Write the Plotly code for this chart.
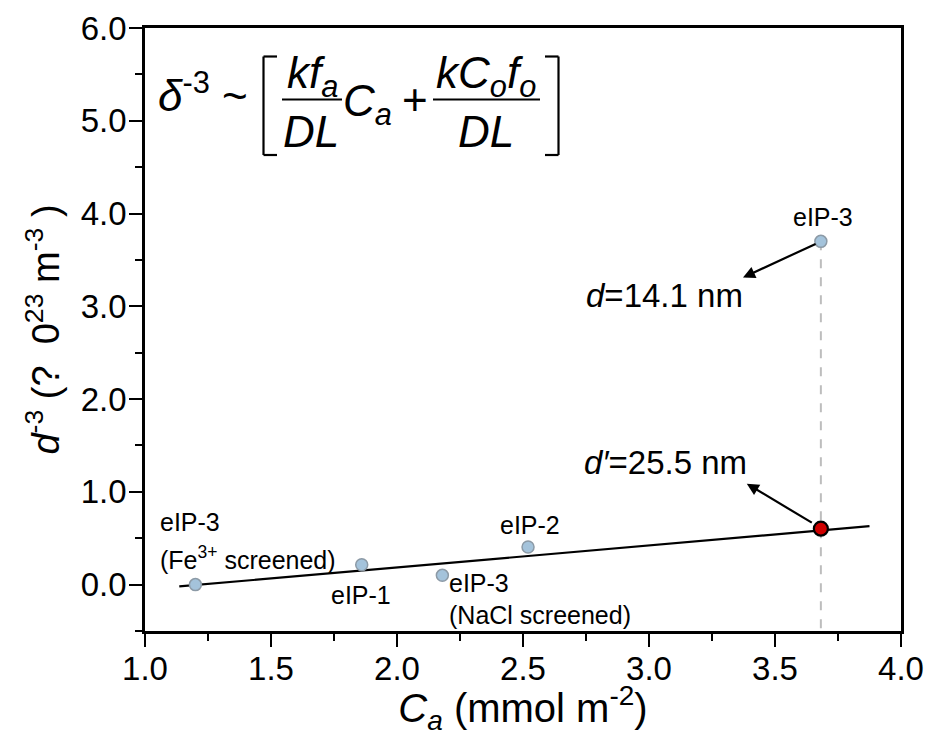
import plotly.graph_objects as go

# ---------------- data ----------------
sample_names = ["eIP-3", "eIP-1", "eIP-3", "eIP-2", "eIP-3"]
ca_values = [1.20, 1.86, 2.18, 2.52, 3.682]
d3_values = [0.00, 0.215, 0.10, 0.405, 3.70]

corrected_x = [3.682]
corrected_y = [0.603]

fit_x = [1.136, 3.875]
fit_y = [-0.02, 0.63]

x_ticks = [1.0, 1.5, 2.0, 2.5, 3.0, 3.5, 4.0]
y_ticks = [0.0, 1.0, 2.0, 3.0, 4.0, 5.0, 6.0]

FONT = "Liberation Sans, Arial, sans-serif"

# plot area in pixels (for layout placement of text)
L, R, T, B = 145, 901, 28, 631
W, H = 928, 736


def P(px, py):
    return (px - L) / (R - L), (B - py) / (B - T)


fig = go.Figure()

# dashed guide
fig.add_trace(go.Scatter(x=[ca_values[-1], ca_values[-1]], y=[d3_values[-1], -0.5],
                         mode="lines", line=dict(color="#bdbdbd", width=2, dash="dash"),
                         hoverinfo="skip", showlegend=False))
# fit line
fig.add_trace(go.Scatter(x=fit_x, y=fit_y, mode="lines",
                         line=dict(color="black", width=2.2), showlegend=False))
# samples
fig.add_trace(go.Scatter(x=ca_values, y=d3_values, mode="markers",
                         marker=dict(size=12, color="#a4c3db",
                                     line=dict(color="#8c9aa6", width=1.5)),
                         showlegend=False))
# corrected point
fig.add_trace(go.Scatter(x=corrected_x, y=corrected_y, mode="markers",
                         marker=dict(size=14, color="#d00000",
                                     line=dict(color="black", width=2.2)),
                         showlegend=False))

ann = []


def text(px, py, s, size=25, xanchor="left", yanchor="middle"):
    x, y = P(px, py)
    ann.append(dict(x=x, y=y, xref="paper", yref="paper", text=s, showarrow=False,
                    xanchor=xanchor, yanchor=yanchor,
                    font=dict(family=FONT, size=size, color="black")))


# point labels
text(823, 217, sample_names[4], xanchor="center")
text(158, 522, sample_names[0])
text(158, 558, "(Fe<sup>3+</sup> screened)")
text(329, 595, sample_names[1])
text(498, 525, sample_names[3])
text(447, 583, sample_names[2])
text(447, 615, "(NaCl screened)")

# d labels
text(584, 295, "<i>d</i>=14.1 nm", size=33)
text(582, 463, "<i>d′</i>=25.5 nm", size=33)

# arrows
ann.append(dict(x=3.373, y=3.31, ax=ca_values[-1] - 0.015, ay=d3_values[-1] - 0.02,
                xref="x", yref="y", axref="x", ayref="y", text="", showarrow=True,
                arrowhead=2, arrowsize=1.1, arrowwidth=2.2, arrowcolor="black"))
ann.append(dict(x=3.388, y=1.088, ax=corrected_x[0] - 0.03, ay=corrected_y[0] + 0.055,
                xref="x", yref="y", axref="x", ayref="y", text="", showarrow=True,
                arrowhead=2, arrowsize=1.1, arrowwidth=2.2, arrowcolor="black"))

# equation
EQ = 44
text(156, 93, "<i>δ</i><sup>-3</sup> ~", size=EQ)
text(312, 76, "<i>kf<sub>a</sub></i>", size=EQ, xanchor="center")
text(311, 131, "<i>DL</i>", size=EQ, xanchor="center")
text(341, 104, "<i>C<sub>a</sub></i>", size=EQ)
text(415, 99, "+", size=EQ, xanchor="center")
text(486, 76, "<i>kC<sub>o</sub>f<sub>o</sub></i>", size=EQ, xanchor="center")
text(486, 131, "<i>DL</i>", size=EQ, xanchor="center")

shapes = []


def seg(x0, y0, x1, y1, w=2.2):
    a, b = P(x0, y0)
    c, d = P(x1, y1)
    shapes.append(dict(type="line", xref="paper", yref="paper", x0=a, y0=b, x1=c, y1=d,
                       line=dict(color="black", width=w)))


# fraction bars
seg(282, 99.5, 342, 99.5)
seg(433, 99.5, 540, 99.5)
# left bracket
seg(263.5, 56.5, 263.5, 155)
seg(263.5, 56.5, 277, 56.5)
seg(263.5, 155, 277, 155)
# right bracket
seg(558.5, 56.5, 558.5, 155)
seg(545, 56.5, 558.5, 56.5)
seg(545, 155, 558.5, 155)

axis_common = dict(showline=True, linecolor="black", linewidth=2.5, mirror=True,
                   ticks="outside", ticklen=13, tickwidth=2, tickcolor="black",
                   showgrid=False, zeroline=False, automargin=False,
                   tickfont=dict(family=FONT, size=33, color="black"))

fig.update_layout(
    width=W, height=H,
    margin=dict(l=L, r=W - R, t=T, b=H - B, autoexpand=False),
    plot_bgcolor="white", paper_bgcolor="white",
    xaxis=dict(range=[1.0, 4.0], tickvals=x_ticks,
               ticktext=[f"{v:.1f}" for v in x_ticks],
               minor=dict(dtick=0.25, ticklen=7, tickwidth=2, tickcolor="black", ticks="outside"),
               title=dict(text="<i>C<sub>a</sub></i> (mmol m<sup>-2</sup>)",
                          font=dict(family=FONT, size=40, color="black"), standoff=0),
               ticklabelstandoff=-6,
               **axis_common),
    yaxis=dict(range=[-0.5, 6.0], tickvals=y_ticks,
               ticktext=[f"{v:.1f}" for v in y_ticks],
               minor=dict(dtick=0.5, ticklen=7, tickwidth=2, tickcolor="black", ticks="outside"),
               title=dict(text="<i>d</i><sup>-3</sup> (?  0<sup>23</sup> m<sup>-3</sup> )",
                          font=dict(family=FONT, size=38, color="black"), standoff=10),
               ticklabelstandoff=-4,
               **axis_common),
    annotations=ann,
    shapes=shapes,
)

fig.write_html("out.html", config={"displayModeBar": False},
               post_script="document.body.style.margin='0';document.body.style.padding='0';")
